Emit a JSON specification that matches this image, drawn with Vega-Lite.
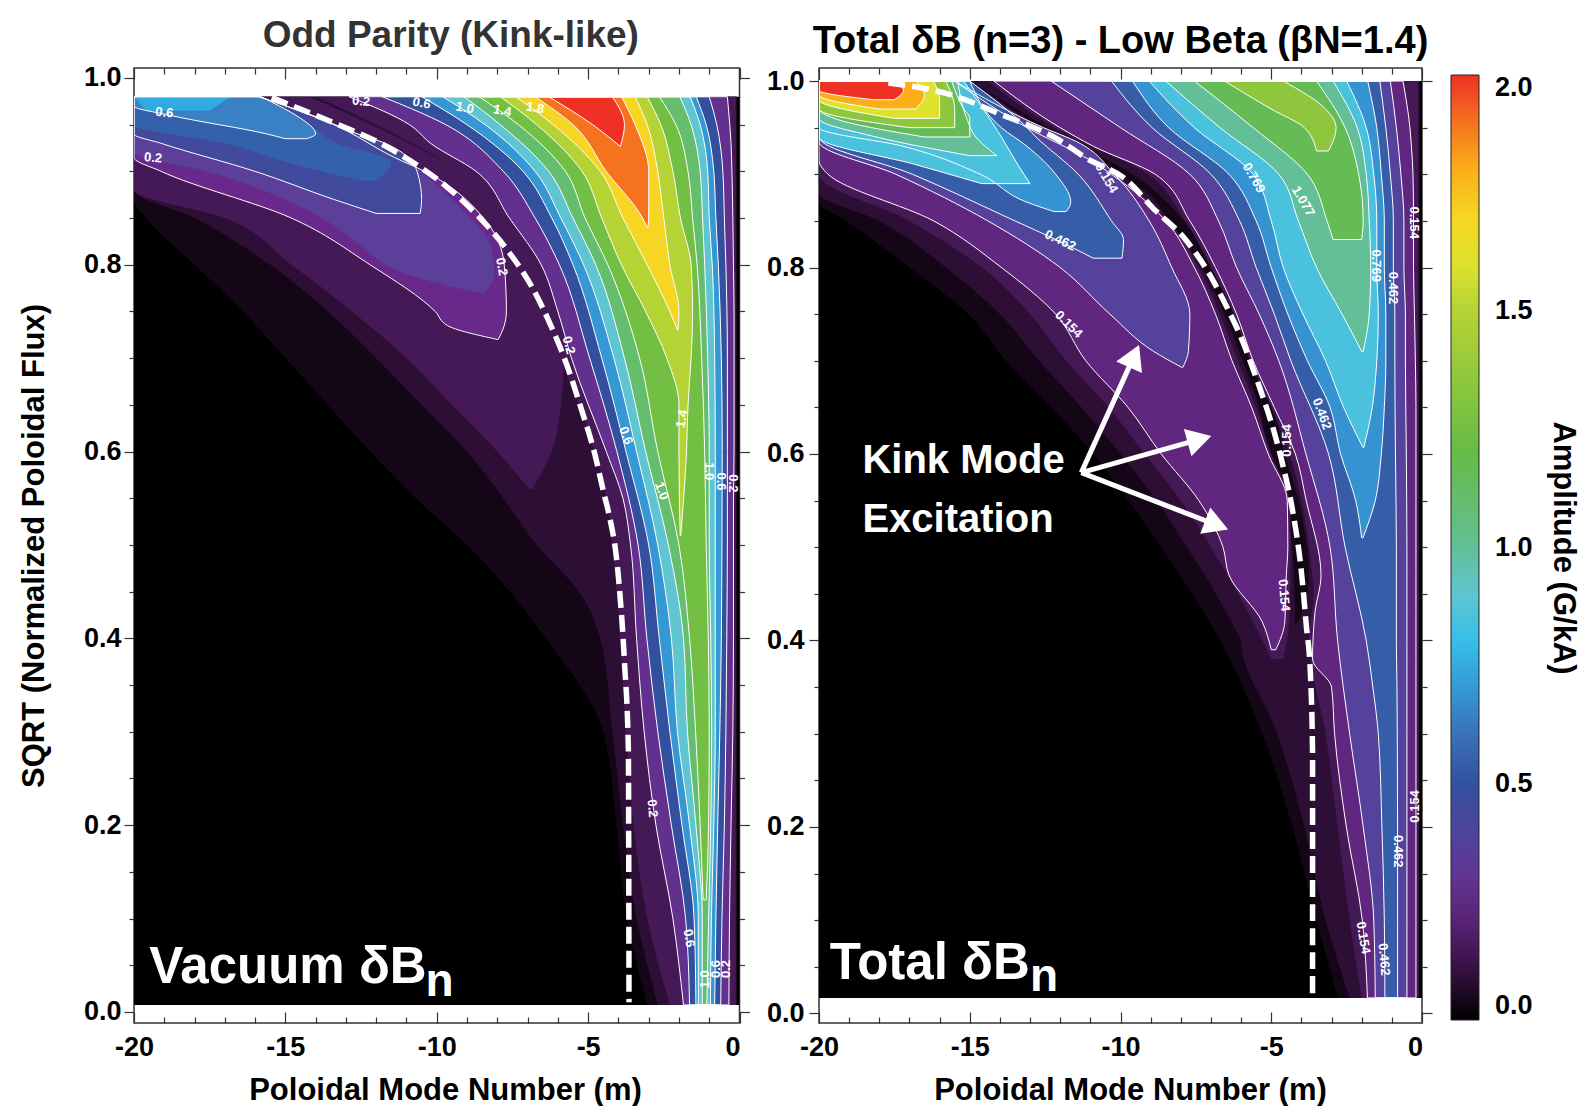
{"$schema":"https://vega.github.io/schema/vega-lite/v6.json","padding":{"left":17,"top":16,"right":0,"bottom":0},"background":"white","bounds":"flush","spacing":79,
"config":{"view":{"stroke":"#333333","strokeWidth":1.5},"font":"Liberation Sans","axis":{"grid":false,"domain":false,"labelFont":"Liberation Sans","labelFontWeight":"bold","labelFontSize":27,"labelColor":"#000000","titleFont":"Liberation Sans","titleFontWeight":"bold","titleFontSize":31,"titleColor":"#000000","tickColor":"#333333","tickWidth":1.2,"labelOverlap":false,"labelFlush":false},"legend":{"orient":"none"}},
"resolve":{"scale":{"color":"shared"}},
"datasets":{
"p1":[
{"g":0,"c":0,"s":0.0075,"a":-20,"b":0},{"g":0,"c":0,"s":0.98,"a":-20,"b":0},
{"g":1,"c":0.05,"s":0.0075,"a":-3.05,"b":-0.08},{"g":1,"c":0.05,"s":0.1,"a":-3.73,"b":-0.08},{"g":1,"c":0.05,"s":0.2,"a":-4.07,"b":-0.08},{"g":1,"c":0.05,"s":0.3,"a":-4.5,"b":-0.08},{"g":1,"c":0.05,"s":0.4,"a":-6.4,"b":-0.08},{"g":1,"c":0.05,"s":0.5,"a":-9,"b":-0.08},{"g":1,"c":0.05,"s":0.55,"a":-10.7,"b":-0.08},{"g":1,"c":0.05,"s":0.6,"a":-12.2,"b":-0.08},{"g":1,"c":0.05,"s":0.65,"a":-13.6,"b":-0.08},{"g":1,"c":0.05,"s":0.7,"a":-15,"b":-0.08},{"g":1,"c":0.05,"s":0.75,"a":-16.4,"b":-0.08},{"g":1,"c":0.05,"s":0.8,"a":-18,"b":-0.08},{"g":1,"c":0.05,"s":0.85,"a":-19.6,"b":-0.08},{"g":1,"c":0.05,"s":0.87,"a":-20,"b":-0.08},{"g":1,"c":0.05,"s":0.98,"a":-20,"b":-0.08},
{"g":2,"c":0.09,"s":0.0075,"a":-2.7,"b":-0.1},{"g":2,"c":0.09,"s":0.1,"a":-3.4,"b":-0.1},{"g":2,"c":0.09,"s":0.2,"a":-3.85,"b":-0.1},{"g":2,"c":0.09,"s":0.3,"a":-4.2,"b":-0.1},{"g":2,"c":0.09,"s":0.4,"a":-4.6,"b":-0.1},{"g":2,"c":0.09,"s":0.45,"a":-5.3,"b":-0.1},{"g":2,"c":0.09,"s":0.5,"a":-6.7,"b":-0.1},{"g":2,"c":0.09,"s":0.55,"a":-7.8,"b":-0.1},{"g":2,"c":0.09,"s":0.6,"a":-9,"b":-0.1},{"g":2,"c":0.09,"s":0.65,"a":-10.5,"b":-0.1},{"g":2,"c":0.09,"s":0.7,"a":-12,"b":-0.1},{"g":2,"c":0.09,"s":0.75,"a":-13.6,"b":-0.1},{"g":2,"c":0.09,"s":0.8,"a":-15.5,"b":-0.1},{"g":2,"c":0.09,"s":0.85,"a":-18,"b":-0.1},{"g":2,"c":0.09,"s":0.88,"a":-20,"b":-0.1},{"g":2,"c":0.09,"s":0.98,"a":-20,"b":-0.1},
{"g":3,"c":0.15,"s":0.0075,"a":-2.3,"b":-0.12},{"g":3,"c":0.15,"s":0.1,"a":-3.05,"b":-0.12},{"g":3,"c":0.15,"s":0.2,"a":-3.5,"b":-0.12},{"g":3,"c":0.15,"s":0.3,"a":-3.75,"b":-0.12},{"g":3,"c":0.15,"s":0.4,"a":-3.95,"b":-0.12},{"g":3,"c":0.15,"s":0.5,"a":-4.2,"b":-0.12},{"g":3,"c":0.15,"s":0.55,"a":-4.4,"b":-0.12},{"g":3,"c":0.15,"s":0.6,"a":-4.8,"b":-0.12},{"g":3,"c":0.15,"s":0.65,"a":-5.3,"b":-0.12},{"g":3,"c":0.15,"s":0.7,"a":-5.9,"b":-0.12},{"g":3,"c":0.15,"s":0.75,"a":-6.3,"b":-0.12},{"g":3,"c":0.15,"s":0.8,"a":-6.9,"b":-0.12},{"g":3,"c":0.15,"s":0.85,"a":-8,"b":-0.12},{"g":3,"c":0.15,"s":0.9,"a":-9.3,"b":-0.12},{"g":3,"c":0.15,"s":0.95,"a":-12,"b":-0.12},{"g":3,"c":0.15,"s":0.98,"a":-14,"b":-0.12},
{"g":4,"c":0.15,"s":0.56,"a":-6.95,"b":-6.85},{"g":4,"c":0.15,"s":0.6,"a":-8,"b":-6.2},{"g":4,"c":0.15,"s":0.65,"a":-9.5,"b":-5.9},{"g":4,"c":0.15,"s":0.7,"a":-11,"b":-5.8},{"g":4,"c":0.15,"s":0.75,"a":-12.8,"b":-6.1},{"g":4,"c":0.15,"s":0.8,"a":-14.8,"b":-6.7},{"g":4,"c":0.15,"s":0.85,"a":-17,"b":-7.4},{"g":4,"c":0.15,"s":0.88,"a":-20,"b":-8.3},{"g":4,"c":0.15,"s":0.92,"a":-20,"b":-10.3},{"g":4,"c":0.15,"s":0.98,"a":-20,"b":-14.2},
{"g":5,"c":0.25,"s":0.72,"a":-7.99,"b":-7.97},{"g":5,"c":0.25,"s":0.735,"a":-9.65,"b":-7.77},{"g":5,"c":0.25,"s":0.75,"a":-10.05,"b":-7.7},{"g":5,"c":0.25,"s":0.8,"a":-12.2,"b":-7.77},{"g":5,"c":0.25,"s":0.85,"a":-14.8,"b":-8.45},{"g":5,"c":0.25,"s":0.9,"a":-19.1,"b":-10.4},{"g":5,"c":0.25,"s":0.915,"a":-20,"b":-11.4},{"g":5,"c":0.25,"s":0.95,"a":-20,"b":-13.4},{"g":5,"c":0.25,"s":0.98,"a":-20,"b":-15.85},
{"g":6,"c":0.28,"s":0.0075,"a":-1.85,"b":-0.35},{"g":6,"c":0.28,"s":0.1,"a":-2.2,"b":-0.33},{"g":6,"c":0.28,"s":0.2,"a":-2.76,"b":-0.28},{"g":6,"c":0.28,"s":0.3,"a":-3.15,"b":-0.22},{"g":6,"c":0.28,"s":0.4,"a":-3.4,"b":-0.2},{"g":6,"c":0.28,"s":0.5,"a":-3.6,"b":-0.2},{"g":6,"c":0.28,"s":0.55,"a":-3.85,"b":-0.2},{"g":6,"c":0.28,"s":0.6,"a":-4.4,"b":-0.18},{"g":6,"c":0.28,"s":0.7,"a":-5.55,"b":-0.18},{"g":6,"c":0.28,"s":0.75,"a":-6,"b":-0.18},{"g":6,"c":0.28,"s":0.8,"a":-6.55,"b":-0.2},{"g":6,"c":0.28,"s":0.85,"a":-7.6,"b":-0.22},{"g":6,"c":0.28,"s":0.9,"a":-8.7,"b":-0.25},{"g":6,"c":0.28,"s":0.93,"a":-10.2,"b":-0.28},{"g":6,"c":0.28,"s":0.95,"a":-10.9,"b":-0.32},{"g":6,"c":0.28,"s":0.98,"a":-12.9,"b":-0.4},
{"g":7,"c":0.35,"s":0.77,"a":-8.6,"b":-8.4},{"g":7,"c":0.35,"s":0.79,"a":-11,"b":-8.1},{"g":7,"c":0.35,"s":0.82,"a":-12.5,"b":-8.2},{"g":7,"c":0.35,"s":0.85,"a":-13.8,"b":-8.9},{"g":7,"c":0.35,"s":0.9,"a":-17.6,"b":-10.5},{"g":7,"c":0.35,"s":0.92,"a":-20,"b":-11.2},{"g":7,"c":0.35,"s":0.95,"a":-20,"b":-13.3},{"g":7,"c":0.35,"s":0.98,"a":-20,"b":-15.8},
{"g":8,"c":0.45,"s":0.855,"a":-12,"b":-10.55},{"g":8,"c":0.45,"s":0.87,"a":-13.4,"b":-10.5},{"g":8,"c":0.45,"s":0.9,"a":-16,"b":-10.65},{"g":8,"c":0.45,"s":0.93,"a":-19.1,"b":-11.7},{"g":8,"c":0.45,"s":0.94,"a":-20,"b":-12.6},{"g":8,"c":0.45,"s":0.96,"a":-20,"b":-14.1},{"g":8,"c":0.45,"s":0.98,"a":-20,"b":-15.9},
{"g":9,"c":0.5,"s":0.0075,"a":-1.65,"b":-0.62},{"g":9,"c":0.5,"s":0.1,"a":-1.78,"b":-0.58},{"g":9,"c":0.5,"s":0.2,"a":-2.25,"b":-0.5},{"g":9,"c":0.5,"s":0.3,"a":-2.7,"b":-0.45},{"g":9,"c":0.5,"s":0.4,"a":-3.06,"b":-0.42},{"g":9,"c":0.5,"s":0.5,"a":-3.35,"b":-0.4},{"g":9,"c":0.5,"s":0.6,"a":-4.05,"b":-0.4},{"g":9,"c":0.5,"s":0.7,"a":-4.95,"b":-0.4},{"g":9,"c":0.5,"s":0.8,"a":-5.95,"b":-0.45},{"g":9,"c":0.5,"s":0.85,"a":-6.75,"b":-0.5},{"g":9,"c":0.5,"s":0.9,"a":-7.8,"b":-0.55},{"g":9,"c":0.5,"s":0.95,"a":-9.7,"b":-0.75},{"g":9,"c":0.5,"s":0.98,"a":-11.8,"b":-1},
{"g":10,"c":0.55,"s":0.89,"a":-12.5,"b":-12},{"g":10,"c":0.55,"s":0.91,"a":-15,"b":-11.5},{"g":10,"c":0.55,"s":0.93,"a":-17,"b":-13.3},{"g":10,"c":0.55,"s":0.95,"a":-20,"b":-14.2},{"g":10,"c":0.55,"s":0.98,"a":-20,"b":-15.8},
{"g":11,"c":0.65,"s":0.935,"a":-15,"b":-14.3},{"g":11,"c":0.65,"s":0.94,"a":-15.6,"b":-14},{"g":11,"c":0.65,"s":0.96,"a":-18.8,"b":-14.65},{"g":11,"c":0.65,"s":0.97,"a":-20,"b":-15.2},{"g":11,"c":0.65,"s":0.98,"a":-20,"b":-15.8},
{"g":12,"c":0.7,"s":0.0075,"a":-1.44,"b":-0.82},{"g":12,"c":0.7,"s":0.1,"a":-1.5,"b":-0.78},{"g":12,"c":0.7,"s":0.2,"a":-1.9,"b":-0.72},{"g":12,"c":0.7,"s":0.3,"a":-2.3,"b":-0.65},{"g":12,"c":0.7,"s":0.4,"a":-2.65,"b":-0.6},{"g":12,"c":0.7,"s":0.5,"a":-3,"b":-0.58},{"g":12,"c":0.7,"s":0.6,"a":-3.75,"b":-0.57},{"g":12,"c":0.7,"s":0.7,"a":-4.55,"b":-0.6},{"g":12,"c":0.7,"s":0.8,"a":-5.5,"b":-0.7},{"g":12,"c":0.7,"s":0.85,"a":-6.2,"b":-0.78},{"g":12,"c":0.7,"s":0.9,"a":-7.15,"b":-0.85},{"g":12,"c":0.7,"s":0.95,"a":-9,"b":-1.1},{"g":12,"c":0.7,"s":0.98,"a":-10.5,"b":-1.43},
{"g":13,"c":0.74,"s":0.965,"a":-19.6,"b":-17.5},{"g":13,"c":0.74,"s":0.98,"a":-20,"b":-16.8},
{"g":14,"c":0.9,"s":0.0075,"a":-1.36,"b":-0.96},{"g":14,"c":0.9,"s":0.1,"a":-1.36,"b":-0.93},{"g":14,"c":0.9,"s":0.2,"a":-1.65,"b":-0.85},{"g":14,"c":0.9,"s":0.3,"a":-2.05,"b":-0.8},{"g":14,"c":0.9,"s":0.4,"a":-2.25,"b":-0.8},{"g":14,"c":0.9,"s":0.5,"a":-2.7,"b":-0.8},{"g":14,"c":0.9,"s":0.6,"a":-3.4,"b":-0.8},{"g":14,"c":0.9,"s":0.7,"a":-4.15,"b":-0.82},{"g":14,"c":0.9,"s":0.8,"a":-5.15,"b":-0.9},{"g":14,"c":0.9,"s":0.85,"a":-5.9,"b":-1},{"g":14,"c":0.9,"s":0.9,"a":-6.75,"b":-1.05},{"g":14,"c":0.9,"s":0.95,"a":-8.4,"b":-1.3},{"g":14,"c":0.9,"s":0.98,"a":-9.8,"b":-1.63},
{"g":15,"c":1.1,"s":0.0075,"a":-1.23,"b":-1.08},{"g":15,"c":1.1,"s":0.1,"a":-1.23,"b":-1.02},{"g":15,"c":1.1,"s":0.2,"a":-1.44,"b":-0.95},{"g":15,"c":1.1,"s":0.3,"a":-1.72,"b":-0.92},{"g":15,"c":1.1,"s":0.4,"a":-1.85,"b":-0.95},{"g":15,"c":1.1,"s":0.5,"a":-2.35,"b":-1},{"g":15,"c":1.1,"s":0.6,"a":-3.1,"b":-1},{"g":15,"c":1.1,"s":0.7,"a":-3.8,"b":-1.05},{"g":15,"c":1.1,"s":0.8,"a":-4.75,"b":-1.15},{"g":15,"c":1.1,"s":0.85,"a":-5.5,"b":-1.22},{"g":15,"c":1.1,"s":0.9,"a":-6.3,"b":-1.3},{"g":15,"c":1.1,"s":0.95,"a":-7.9,"b":-1.6},{"g":15,"c":1.1,"s":0.98,"a":-9.1,"b":-1.97},
{"g":16,"c":1.25,"s":0.12,"a":-1.2,"b":-1.1},{"g":16,"c":1.25,"s":0.2,"a":-1.3,"b":-1.02},{"g":16,"c":1.25,"s":0.3,"a":-1.45,"b":-1},{"g":16,"c":1.25,"s":0.4,"a":-1.65,"b":-1.03},{"g":16,"c":1.25,"s":0.5,"a":-2,"b":-1.1},{"g":16,"c":1.25,"s":0.6,"a":-2.7,"b":-1.15},{"g":16,"c":1.25,"s":0.7,"a":-3.3,"b":-1.25},{"g":16,"c":1.25,"s":0.8,"a":-4.35,"b":-1.4},{"g":16,"c":1.25,"s":0.85,"a":-5.1,"b":-1.55},{"g":16,"c":1.25,"s":0.9,"a":-5.75,"b":-1.7},{"g":16,"c":1.25,"s":0.95,"a":-7.3,"b":-2.1},{"g":16,"c":1.25,"s":0.98,"a":-8.6,"b":-2.65},
{"g":17,"c":1.5,"s":0.51,"a":-1.96,"b":-1.94},{"g":17,"c":1.5,"s":0.6,"a":-2,"b":-1.75},{"g":17,"c":1.5,"s":0.65,"a":-2,"b":-1.7},{"g":17,"c":1.5,"s":0.7,"a":-2.4,"b":-1.6},{"g":17,"c":1.5,"s":0.75,"a":-3.1,"b":-1.55},{"g":17,"c":1.5,"s":0.8,"a":-3.9,"b":-1.6},{"g":17,"c":1.5,"s":0.85,"a":-4.55,"b":-1.95},{"g":17,"c":1.5,"s":0.9,"a":-5.2,"b":-2.2},{"g":17,"c":1.5,"s":0.95,"a":-6.7,"b":-2.6},{"g":17,"c":1.5,"s":0.98,"a":-7.9,"b":-3.05},
{"g":18,"c":1.7,"s":0.73,"a":-2.05,"b":-2.03},{"g":18,"c":1.7,"s":0.75,"a":-2.3,"b":-2},{"g":18,"c":1.7,"s":0.8,"a":-3.05,"b":-2.3},{"g":18,"c":1.7,"s":0.85,"a":-3.85,"b":-2.5},{"g":18,"c":1.7,"s":0.9,"a":-4.6,"b":-2.7},{"g":18,"c":1.7,"s":0.95,"a":-6.15,"b":-3.05},{"g":18,"c":1.7,"s":0.98,"a":-7.4,"b":-3.45},
{"g":19,"c":1.9,"s":0.84,"a":-3.05,"b":-3.03},{"g":19,"c":1.9,"s":0.85,"a":-3.2,"b":-3},{"g":19,"c":1.9,"s":0.9,"a":-4.4,"b":-3},{"g":19,"c":1.9,"s":0.95,"a":-5.5,"b":-3.45},{"g":19,"c":1.9,"s":0.98,"a":-6.75,"b":-3.9},
{"g":20,"c":2,"s":0.927,"a":-3.95,"b":-3.93},{"g":20,"c":2,"s":0.95,"a":-4.85,"b":-3.8},{"g":20,"c":2,"s":0.98,"a":-6.3,"b":-4.2}
],
"p2":[
{"g":0,"c":0,"s":0.0166,"a":-20,"b":0},{"g":0,"c":0,"s":1,"a":-20,"b":0},
{"g":1,"c":0.05,"s":0.0166,"a":-2.8,"b":-0.05},{"g":1,"c":0.05,"s":0.1,"a":-3.5,"b":-0.05},{"g":1,"c":0.05,"s":0.2,"a":-4.3,"b":-0.05},{"g":1,"c":0.05,"s":0.3,"a":-5.3,"b":-0.05},{"g":1,"c":0.05,"s":0.4,"a":-6.7,"b":-0.05},{"g":1,"c":0.05,"s":0.5,"a":-8.65,"b":-0.05},{"g":1,"c":0.05,"s":0.55,"a":-9.75,"b":-0.05},{"g":1,"c":0.05,"s":0.6,"a":-10.9,"b":-0.05},{"g":1,"c":0.05,"s":0.65,"a":-12.3,"b":-0.05},{"g":1,"c":0.05,"s":0.7,"a":-13.8,"b":-0.05},{"g":1,"c":0.05,"s":0.75,"a":-15.05,"b":-0.05},{"g":1,"c":0.05,"s":0.8,"a":-17,"b":-0.05},{"g":1,"c":0.05,"s":0.85,"a":-19.1,"b":-0.05},{"g":1,"c":0.05,"s":0.87,"a":-20,"b":-0.05},{"g":1,"c":0.05,"s":1,"a":-20,"b":-0.05},
{"g":2,"c":0.09,"s":0.0166,"a":-2.4,"b":-0.1},{"g":2,"c":0.09,"s":0.1,"a":-3.2,"b":-0.1},{"g":2,"c":0.09,"s":0.2,"a":-3.9,"b":-0.1},{"g":2,"c":0.09,"s":0.3,"a":-4.8,"b":-0.1},{"g":2,"c":0.09,"s":0.4,"a":-6,"b":-0.1},{"g":2,"c":0.09,"s":0.42,"a":-4.1,"b":-0.1},{"g":2,"c":0.09,"s":0.47,"a":-3.75,"b":-0.1},{"g":2,"c":0.09,"s":0.55,"a":-4.1,"b":-0.1},{"g":2,"c":0.09,"s":0.6,"a":-4.55,"b":-0.1},{"g":2,"c":0.09,"s":0.65,"a":-4.95,"b":-0.1},{"g":2,"c":0.09,"s":0.7,"a":-5.5,"b":-0.1},{"g":2,"c":0.09,"s":0.75,"a":-6.1,"b":-0.1},{"g":2,"c":0.09,"s":0.8,"a":-6.9,"b":-0.1},{"g":2,"c":0.09,"s":0.85,"a":-7.9,"b":-0.1},{"g":2,"c":0.09,"s":0.9,"a":-9.6,"b":-0.1},{"g":2,"c":0.09,"s":0.935,"a":-11.6,"b":-0.1},{"g":2,"c":0.09,"s":1,"a":-15,"b":-0.1},
{"g":3,"c":0.09,"s":0.4,"a":-6,"b":-4.2},{"g":3,"c":0.09,"s":0.47,"a":-7.2,"b":-4.25},{"g":3,"c":0.09,"s":0.5,"a":-7.8,"b":-4.3},{"g":3,"c":0.09,"s":0.55,"a":-8.8,"b":-4.6},{"g":3,"c":0.09,"s":0.6,"a":-10,"b":-5.1},{"g":3,"c":0.09,"s":0.65,"a":-11.3,"b":-5.4},{"g":3,"c":0.09,"s":0.7,"a":-12.7,"b":-5.95},{"g":3,"c":0.09,"s":0.75,"a":-14,"b":-6.55},{"g":3,"c":0.09,"s":0.8,"a":-15.8,"b":-7.3},{"g":3,"c":0.09,"s":0.85,"a":-18,"b":-8.4},{"g":3,"c":0.09,"s":0.88,"a":-20,"b":-9.1},{"g":3,"c":0.09,"s":0.9,"a":-20,"b":-10.1},{"g":3,"c":0.09,"s":0.935,"a":-20,"b":-12.3},{"g":3,"c":0.09,"s":1,"a":-20,"b":-16},
{"g":4,"c":0.15,"s":0.0166,"a":-2,"b":-0.12},{"g":4,"c":0.15,"s":0.1,"a":-2.4,"b":-0.12},{"g":4,"c":0.15,"s":0.2,"a":-2.8,"b":-0.12},{"g":4,"c":0.15,"s":0.3,"a":-3.2,"b":-0.12},{"g":4,"c":0.15,"s":0.4,"a":-3.75,"b":-0.12},{"g":4,"c":0.15,"s":0.45,"a":-3.6,"b":-0.12},{"g":4,"c":0.15,"s":0.5,"a":-3.75,"b":-0.12},{"g":4,"c":0.15,"s":0.55,"a":-4,"b":-0.12},{"g":4,"c":0.15,"s":0.6,"a":-4.4,"b":-0.12},{"g":4,"c":0.15,"s":0.65,"a":-5,"b":-0.12},{"g":4,"c":0.15,"s":0.7,"a":-5.7,"b":-0.12},{"g":4,"c":0.15,"s":0.75,"a":-6.25,"b":-0.12},{"g":4,"c":0.15,"s":0.8,"a":-7,"b":-0.12},{"g":4,"c":0.15,"s":0.85,"a":-7.85,"b":-0.12},{"g":4,"c":0.15,"s":0.9,"a":-9.1,"b":-0.12},{"g":4,"c":0.15,"s":0.95,"a":-12.2,"b":-0.12},{"g":4,"c":0.15,"s":1,"a":-14.4,"b":-0.12},
{"g":5,"c":0.15,"s":0.38,"a":-5,"b":-4.6},{"g":5,"c":0.15,"s":0.42,"a":-5.6,"b":-4.4},{"g":5,"c":0.15,"s":0.5,"a":-7,"b":-4.35},{"g":5,"c":0.15,"s":0.55,"a":-8,"b":-4.4},{"g":5,"c":0.15,"s":0.6,"a":-9.2,"b":-5},{"g":5,"c":0.15,"s":0.65,"a":-10.4,"b":-5.5},{"g":5,"c":0.15,"s":0.7,"a":-11.8,"b":-6.1},{"g":5,"c":0.15,"s":0.75,"a":-13,"b":-6.7},{"g":5,"c":0.15,"s":0.8,"a":-14.6,"b":-7.4},{"g":5,"c":0.15,"s":0.85,"a":-17,"b":-8.4},{"g":5,"c":0.15,"s":0.9,"a":-20,"b":-10.2},{"g":5,"c":0.15,"s":0.95,"a":-20,"b":-12.7},{"g":5,"c":0.15,"s":1,"a":-20,"b":-15},
{"g":6,"c":0.23,"s":0.39,"a":-5,"b":-4.85},{"g":6,"c":0.23,"s":0.42,"a":-5.3,"b":-4.55},{"g":6,"c":0.23,"s":0.47,"a":-6.4,"b":-4.5},{"g":6,"c":0.23,"s":0.5,"a":-6.6,"b":-4.45},{"g":6,"c":0.23,"s":0.55,"a":-7.4,"b":-4.47},{"g":6,"c":0.23,"s":0.6,"a":-8.65,"b":-5.1},{"g":6,"c":0.23,"s":0.65,"a":-9.75,"b":-5.65},{"g":6,"c":0.23,"s":0.7,"a":-11.15,"b":-6.3},{"g":6,"c":0.23,"s":0.75,"a":-12.15,"b":-6.85},{"g":6,"c":0.23,"s":0.8,"a":-13.95,"b":-7.55},{"g":6,"c":0.23,"s":0.85,"a":-16.2,"b":-8.5},{"g":6,"c":0.23,"s":0.9,"a":-19.7,"b":-10.3},{"g":6,"c":0.23,"s":0.915,"a":-20,"b":-11},{"g":6,"c":0.23,"s":0.95,"a":-20,"b":-13.1},{"g":6,"c":0.23,"s":1,"a":-20,"b":-15.5},
{"g":7,"c":0.23,"s":0.0166,"a":-1.81,"b":-0.2},{"g":7,"c":0.23,"s":0.1,"a":-1.98,"b":-0.2},{"g":7,"c":0.23,"s":0.2,"a":-2.51,"b":-0.2},{"g":7,"c":0.23,"s":0.3,"a":-2.9,"b":-0.2},{"g":7,"c":0.23,"s":0.35,"a":-3,"b":-0.2},{"g":7,"c":0.23,"s":0.38,"a":-3.63,"b":-0.2},{"g":7,"c":0.23,"s":0.43,"a":-3.55,"b":-0.2},{"g":7,"c":0.23,"s":0.47,"a":-3.35,"b":-0.2},{"g":7,"c":0.23,"s":0.55,"a":-3.84,"b":-0.2},{"g":7,"c":0.23,"s":0.6,"a":-4.2,"b":-0.2},{"g":7,"c":0.23,"s":0.65,"a":-4.9,"b":-0.2},{"g":7,"c":0.23,"s":0.7,"a":-5.6,"b":-0.22},{"g":7,"c":0.23,"s":0.75,"a":-6.15,"b":-0.25},{"g":7,"c":0.23,"s":0.8,"a":-6.85,"b":-0.28},{"g":7,"c":0.23,"s":0.85,"a":-7.7,"b":-0.28},{"g":7,"c":0.23,"s":0.9,"a":-8.85,"b":-0.3},{"g":7,"c":0.23,"s":0.93,"a":-10.9,"b":-0.35},{"g":7,"c":0.23,"s":0.95,"a":-12,"b":-0.4},{"g":7,"c":0.23,"s":1,"a":-14.2,"b":-0.63},
{"g":8,"c":0.38,"s":0.693,"a":-7.97,"b":-7.93},{"g":8,"c":0.38,"s":0.71,"a":-8.9,"b":-7.75},{"g":8,"c":0.38,"s":0.75,"a":-10.35,"b":-7.7},{"g":8,"c":0.38,"s":0.8,"a":-12,"b":-8.3},{"g":8,"c":0.38,"s":0.85,"a":-14.4,"b":-9.05},{"g":8,"c":0.38,"s":0.9,"a":-17.45,"b":-10.2},{"g":8,"c":0.38,"s":0.935,"a":-20,"b":-11.45},{"g":8,"c":0.38,"s":0.95,"a":-20,"b":-12.55},{"g":8,"c":0.38,"s":1,"a":-20,"b":-15.5},
{"g":9,"c":0.38,"s":0.0166,"a":-1.55,"b":-0.5},{"g":9,"c":0.38,"s":0.1,"a":-1.6,"b":-0.5},{"g":9,"c":0.38,"s":0.2,"a":-1.95,"b":-0.5},{"g":9,"c":0.38,"s":0.3,"a":-2.4,"b":-0.5},{"g":9,"c":0.38,"s":0.4,"a":-2.8,"b":-0.5},{"g":9,"c":0.38,"s":0.5,"a":-3.05,"b":-0.5},{"g":9,"c":0.38,"s":0.6,"a":-3.85,"b":-0.52},{"g":9,"c":0.38,"s":0.7,"a":-4.75,"b":-0.55},{"g":9,"c":0.38,"s":0.75,"a":-5.4,"b":-0.55},{"g":9,"c":0.38,"s":0.8,"a":-6.15,"b":-0.6},{"g":9,"c":0.38,"s":0.85,"a":-6.75,"b":-0.6},{"g":9,"c":0.38,"s":0.9,"a":-7.7,"b":-0.7},{"g":9,"c":0.38,"s":0.95,"a":-10,"b":-0.85},{"g":9,"c":0.38,"s":1,"a":-12.3,"b":-1.05},
{"g":10,"c":0.54,"s":0.81,"a":-10.9,"b":-9.95},{"g":10,"c":0.54,"s":0.83,"a":-12.15,"b":-9.9},{"g":10,"c":0.54,"s":0.85,"a":-13.5,"b":-10.3},{"g":10,"c":0.54,"s":0.9,"a":-16.9,"b":-11.4},{"g":10,"c":0.54,"s":0.94,"a":-20,"b":-12.8},{"g":10,"c":0.54,"s":0.95,"a":-20,"b":-13.1},{"g":10,"c":0.54,"s":1,"a":-20,"b":-15},
{"g":11,"c":0.54,"s":0.0166,"a":-1.23,"b":-0.81},{"g":11,"c":0.54,"s":0.1,"a":-1.25,"b":-0.81},{"g":11,"c":0.54,"s":0.2,"a":-1.33,"b":-0.81},{"g":11,"c":0.54,"s":0.3,"a":-1.45,"b":-0.82},{"g":11,"c":0.54,"s":0.35,"a":-1.63,"b":-0.83},{"g":11,"c":0.54,"s":0.4,"a":-1.85,"b":-0.85},{"g":11,"c":0.54,"s":0.5,"a":-2.55,"b":-0.85},{"g":11,"c":0.54,"s":0.6,"a":-3.1,"b":-0.88},{"g":11,"c":0.54,"s":0.7,"a":-4.35,"b":-0.9},{"g":11,"c":0.54,"s":0.75,"a":-4.9,"b":-0.9},{"g":11,"c":0.54,"s":0.8,"a":-5.5,"b":-0.95},{"g":11,"c":0.54,"s":0.85,"a":-6.05,"b":-0.95},{"g":11,"c":0.54,"s":0.9,"a":-7,"b":-1.05},{"g":11,"c":0.54,"s":0.95,"a":-8.95,"b":-1.2},{"g":11,"c":0.54,"s":1,"a":-10.3,"b":-1.4},
{"g":12,"c":0.69,"s":0.86,"a":-12.2,"b":-11.8},{"g":12,"c":0.69,"s":0.87,"a":-13.1,"b":-11.65},{"g":12,"c":0.69,"s":0.9,"a":-14.65,"b":-12.15},{"g":12,"c":0.69,"s":0.93,"a":-17.2,"b":-13.1},{"g":12,"c":0.69,"s":0.95,"a":-20,"b":-13.95},{"g":12,"c":0.69,"s":1,"a":-20,"b":-15},
{"g":13,"c":0.69,"s":0.51,"a":-2,"b":-1.96},{"g":13,"c":0.69,"s":0.55,"a":-2.2,"b":-1.55},{"g":13,"c":0.69,"s":0.6,"a":-2.7,"b":-1.35},{"g":13,"c":0.69,"s":0.65,"a":-3.05,"b":-1.25},{"g":13,"c":0.69,"s":0.7,"a":-3.8,"b":-1.2},{"g":13,"c":0.69,"s":0.75,"a":-4.45,"b":-1.2},{"g":13,"c":0.69,"s":0.8,"a":-5,"b":-1.25},{"g":13,"c":0.69,"s":0.85,"a":-5.5,"b":-1.25},{"g":13,"c":0.69,"s":0.9,"a":-6.4,"b":-1.35},{"g":13,"c":0.69,"s":0.95,"a":-8.4,"b":-1.5},{"g":13,"c":0.69,"s":1,"a":-9.6,"b":-1.8},
{"g":14,"c":0.85,"s":0.89,"a":-14.6,"b":-13},{"g":14,"c":0.85,"s":0.91,"a":-16.75,"b":-13.4},{"g":14,"c":0.85,"s":0.94,"a":-20,"b":-13.95},{"g":14,"c":0.85,"s":1,"a":-20,"b":-15.2},
{"g":15,"c":0.85,"s":0.607,"a":-1.96,"b":-1.93},{"g":15,"c":0.85,"s":0.65,"a":-2.6,"b":-1.65},{"g":15,"c":0.85,"s":0.7,"a":-3.2,"b":-1.5},{"g":15,"c":0.85,"s":0.75,"a":-3.95,"b":-1.45},{"g":15,"c":0.85,"s":0.8,"a":-4.6,"b":-1.5},{"g":15,"c":0.85,"s":0.85,"a":-5,"b":-1.5},{"g":15,"c":0.85,"s":0.9,"a":-5.6,"b":-1.6},{"g":15,"c":0.85,"s":0.95,"a":-7.55,"b":-1.85},{"g":15,"c":0.85,"s":1,"a":-9.05,"b":-2.5},
{"g":16,"c":1,"s":0.92,"a":-15,"b":-14.1},{"g":16,"c":1,"s":0.94,"a":-18.1,"b":-14.8},{"g":16,"c":1,"s":0.96,"a":-20,"b":-15.1},{"g":16,"c":1,"s":1,"a":-20,"b":-15.4},
{"g":17,"c":1,"s":0.71,"a":-2,"b":-1.95},{"g":17,"c":1,"s":0.75,"a":-2.65,"b":-1.75},{"g":17,"c":1,"s":0.8,"a":-3.5,"b":-1.7},{"g":17,"c":1,"s":0.85,"a":-4.1,"b":-1.75},{"g":17,"c":1,"s":0.9,"a":-4.75,"b":-1.85},{"g":17,"c":1,"s":0.95,"a":-6.7,"b":-2.15},{"g":17,"c":1,"s":1,"a":-8.5,"b":-2.95},
{"g":18,"c":1.16,"s":0.94,"a":-16.5,"b":-15},{"g":18,"c":1.16,"s":0.96,"a":-19.5,"b":-15},{"g":18,"c":1.16,"s":0.97,"a":-20,"b":-15.2},{"g":18,"c":1.16,"s":1,"a":-20,"b":-15.6},
{"g":19,"c":1.16,"s":0.83,"a":-2.95,"b":-2},{"g":19,"c":1.16,"s":0.85,"a":-3.15,"b":-1.95},{"g":19,"c":1.16,"s":0.9,"a":-3.8,"b":-2.1},{"g":19,"c":1.16,"s":0.95,"a":-5.6,"b":-2.55},{"g":19,"c":1.16,"s":1,"a":-7.55,"b":-3.5},
{"g":20,"c":1.35,"s":0.95,"a":-17,"b":-15.5},{"g":20,"c":1.35,"s":0.97,"a":-20,"b":-15.5},{"g":20,"c":1.35,"s":1,"a":-20,"b":-15.8},
{"g":21,"c":1.35,"s":0.925,"a":-3.5,"b":-3.1},{"g":21,"c":1.35,"s":0.95,"a":-3.9,"b":-2.85},{"g":21,"c":1.35,"s":0.97,"a":-5,"b":-3.2},{"g":21,"c":1.35,"s":1,"a":-6.55,"b":-4.6},
{"g":22,"c":1.6,"s":0.96,"a":-17.5,"b":-16},{"g":22,"c":1.6,"s":0.98,"a":-20,"b":-16},{"g":22,"c":1.6,"s":1,"a":-20,"b":-16.2},
{"g":23,"c":1.8,"s":0.97,"a":-18,"b":-16.8},{"g":23,"c":1.8,"s":0.985,"a":-20,"b":-16.5},{"g":23,"c":1.8,"s":1,"a":-20,"b":-16.8},
{"g":24,"c":2,"s":0.98,"a":-18.2,"b":-17.5},{"g":24,"c":2,"s":0.99,"a":-20,"b":-17.2},{"g":24,"c":2,"s":1,"a":-20,"b":-17.5}
],
"q1":[{"m":-15.45,"s":0.979},{"m":-13.4,"s":0.952},{"m":-11.8,"s":0.929},{"m":-11,"s":0.914},{"m":-9.65,"s":0.883},{"m":-8.6,"s":0.851},{"m":-7.65,"s":0.815},{"m":-6.85,"s":0.776},{"m":-6.3,"s":0.74},{"m":-5.75,"s":0.697},{"m":-5.2,"s":0.643},{"m":-4.8,"s":0.6},{"m":-4.47,"s":0.554},{"m":-4.34,"s":0.537},{"m":-4,"s":0.466},{"m":-3.8,"s":0.375},{"m":-3.67,"s":0.28},{"m":-3.65,"s":0.0104}],
"q2":[{"m":-17.7,"s":0.998},{"m":-15.5,"s":0.984},{"m":-14.1,"s":0.966},{"m":-12,"s":0.936},{"m":-11.17,"s":0.918},{"m":-9.77,"s":0.893},{"m":-8.93,"s":0.864},{"m":-7.82,"s":0.829},{"m":-6.98,"s":0.789},{"m":-6.42,"s":0.754},{"m":-6,"s":0.725},{"m":-5.58,"s":0.689},{"m":-5.16,"s":0.65},{"m":-4.88,"s":0.621},{"m":-4.6,"s":0.586},{"m":-4.33,"s":0.546},{"m":-3.98,"s":0.467},{"m":-3.84,"s":0.417},{"m":-3.7,"s":0.363},{"m":-3.63,"s":0.28},{"m":-3.63,"s":0.0166}],
"l1":[{"m":-19,"s":0.963,"t":"0.6","r":5},{"m":-19.37,"s":0.9145,"t":"0.2","r":5},{"m":-12.5,"s":0.975,"t":"0.2","r":5},{"m":-10.5,"s":0.973,"t":"0.6","r":10},{"m":-9.07,"s":0.968,"t":"1.0","r":10},{"m":-7.83,"s":0.965,"t":"1.4","r":10},{"m":-6.75,"s":0.968,"t":"1.8","r":10},{"m":-7.86,"s":0.798,"t":"0.2","r":80},{"m":-5.64,"s":0.714,"t":"0.2","r":75},{"m":-3.75,"s":0.617,"t":"0.6","r":70},{"m":-1.9,"s":0.635,"t":"1.4","r":-80},{"m":-2.57,"s":0.558,"t":"1.0","r":70},{"m":-1,"s":0.579,"t":"1.0","r":90},{"m":-0.6,"s":0.568,"t":"0.6","r":90},{"m":-0.2,"s":0.566,"t":"0.2","r":90},{"m":-2.88,"s":0.218,"t":"0.2","r":85},{"m":-1.67,"s":0.079,"t":"0.6","r":80},{"m":-1.15,"s":0.035,"t":"1.0","r":-90},{"m":-0.77,"s":0.046,"t":"0.6","r":-90},{"m":-0.46,"s":0.046,"t":"0.2","r":-90}],
"l2":[{"m":-10.47,"s":0.896,"t":"0.154","r":60},{"m":-12,"s":0.829,"t":"0.462","r":25},{"m":-11.72,"s":0.739,"t":"0.154","r":45},{"m":-5.58,"s":0.896,"t":"0.769","r":60},{"m":-3.94,"s":0.871,"t":"1.077","r":60},{"m":-1.53,"s":0.802,"t":"0.769","r":90},{"m":-0.95,"s":0.778,"t":"0.462","r":90},{"m":-0.28,"s":0.848,"t":"0.154","r":90},{"m":-3.32,"s":0.643,"t":"0.462","r":70},{"m":-4.47,"s":0.6145,"t":"0.154","r":-90},{"m":-4.58,"s":0.4485,"t":"0.154","r":85},{"m":-0.24,"s":0.222,"t":"0.154","r":-90},{"m":-0.81,"s":0.174,"t":"0.462","r":90},{"m":-1.95,"s":0.081,"t":"0.154","r":80},{"m":-1.26,"s":0.058,"t":"0.462","r":85}],
"w":[{"k":1,"m":-11.3,"s":0.58},{"k":1,"m":-9.55,"s":0.705},{"k":2,"m":-11.3,"s":0.58},{"k":2,"m":-7.38,"s":0.6157},{"k":3,"m":-11.3,"s":0.58},{"k":3,"m":-6.81,"s":0.5238}],
"h":[{"m":-9.55,"s":0.705,"r":24},{"m":-7.38,"s":0.6157,"r":74.5},{"m":-6.81,"s":0.5238,"r":111}]
},
"hconcat":[
{"width":605.5,"height":955,
"title":{"text":"Odd Parity (Kink-like)","font":"Liberation Sans","fontWeight":"bold","fontSize":37,"color":"#333333","anchor":"middle","dx":14,"offset":9},
"layer":[
{"data":{"name":"p1"},"mark":{"type":"area","orient":"horizontal","interpolate":"monotone","clip":true},
"encoding":{"y":{"field":"s","type":"quantitative","scale":{"domain":[-0.0118,1.0107],"nice":false,"zero":false},"title":"SQRT (Normalized Poloidal Flux)","axis":{"orient":"left","values":[0,0.2,0.4,0.6,0.8,1],"format":".1f","tickSize":10,"labelPadding":3,"titlePadding":33}},
"x":{"field":"a","type":"quantitative","scale":{"domain":[-20,0],"nice":false,"zero":false},"title":"Poloidal Mode Number (m)","axis":{"orient":"bottom","values":[-20,-15,-10,-5,0],"labelExpr":"''+datum.value","tickSize":-11,"labelPadding":22,"titlePadding":15,"titleX":311,"labelOffset":{"condition":{"test":"datum.value==0","value":-7},"value":0}}},
"x2":{"field":"b"},"detail":{"field":"g"},
"color":{"field":"c","type":"quantitative","scale":{"type":"linear","interpolate":"rgb","domain":[0,0.02,0.1,0.25,0.35,0.5,0.65,0.78,0.9,1,1.2,1.5,1.65,1.8,1.9,2],"range":["#000000","#000000","#34103c","#68298b","#5c3f9b","#33509e","#3a80c4","#2cbdee","#5fc5d0","#63bf97","#66bb46","#b5d334","#f3ea29","#fbae18","#f5721f","#ee3124"],"clamp":true},
"legend":{"orient":"none","legendX":1317,"legendY":7,"gradientLength":945,"gradientThickness":28,"gradientStrokeColor":"#222222","gradientStrokeWidth":1,"values":[0,0.5,1,1.5,2],"format":".1f","direction":"vertical","labelFont":"Liberation Sans","labelFontWeight":"bold","labelFontSize":27,"labelColor":"#000000","labelOffset":16,"title":"Amplitude (G/kA)","titleFont":"Liberation Sans","titleFontWeight":"bold","titleFontSize":31,"titleColor":"#000000","titleOrient":"right","titleAngle":90,"titleAnchor":"middle","titleBaseline":"middle","titlePadding":30,"titleLimit":400}}}},
{"data":{"name":"p1"},"transform":[{"filter":{"field":"c","oneOf":[0.25,0.28,0.45,0.5,0.65,0.7,0.9,1.1,1.25,1.5,1.7,1.9,2]}}],"mark":{"type":"area","orient":"horizontal","interpolate":"monotone","clip":true,"fillOpacity":0,"stroke":"#ffffff","strokeWidth":1},
"encoding":{"y":{"field":"s","type":"quantitative","axis":{"orient":"right","values":[0,0.2,0.4,0.6,0.8,1],"labels":false,"tickSize":10,"title":null},"scale":{"domain":[-0.0118,1.0107],"nice":false,"zero":false}},
"x":{"field":"a","type":"quantitative","axis":{"orient":"top","values":[-20,-15,-10,-5,0],"labels":false,"tickSize":-11,"title":null},"scale":{"domain":[-20,0],"nice":false,"zero":false}},"x2":{"field":"b"},"detail":{"field":"g"}}},
{"data":{"name":"q1"},"mark":{"type":"line","clip":true,"color":"#ffffff","strokeWidth":5.5,"strokeDash":[17,7],"interpolate":"monotone","orient":"horizontal"},
"encoding":{"y":{"field":"s","type":"quantitative","axis":{"orient":"left","values":[0.05,0.1,0.15,0.25,0.3,0.35,0.45,0.5,0.55,0.65,0.7,0.75,0.85,0.9,0.95],"labels":false,"tickSize":5,"title":null},"scale":{"domain":[-0.0118,1.0107],"nice":false,"zero":false}},
"x":{"field":"m","type":"quantitative","axis":{"orient":"bottom","values":[-19,-18,-17,-16,-14,-13,-12,-11,-9,-8,-7,-6,-4,-3,-2,-1],"labels":false,"tickSize":-6,"title":null},"scale":{"domain":[-20,0],"nice":false,"zero":false}},"order":{"field":"s","sort":"descending"}}},
{"data":{"name":"l1"},"mark":{"type":"text","color":"#ffffff","fontSize":13,"fontWeight":"bold","font":"Liberation Sans","clip":true},
"encoding":{"y":{"field":"s","type":"quantitative","axis":{"orient":"right","values":[0.05,0.1,0.15,0.25,0.3,0.35,0.45,0.5,0.55,0.65,0.7,0.75,0.85,0.9,0.95],"labels":false,"tickSize":5,"title":null},"scale":{"domain":[-0.0118,1.0107],"nice":false,"zero":false}},
"x":{"field":"m","type":"quantitative","axis":{"orient":"top","values":[-19,-18,-17,-16,-14,-13,-12,-11,-9,-8,-7,-6,-4,-3,-2,-1],"labels":false,"tickSize":-6,"title":null},"scale":{"domain":[-20,0],"nice":false,"zero":false}},"text":{"field":"t"},"angle":{"field":"r","type":"quantitative","scale":null}}},
{"data":{"values":[{"m":-19.5,"s":0.031,"t":"Vacuum δB"}]},"mark":{"type":"text","color":"#ffffff","fontSize":51,"fontWeight":"bold","font":"Liberation Sans","align":"left","baseline":"alphabetic"},
"encoding":{"x":{"field":"m","type":"quantitative","axis":null,"scale":{"domain":[-20,0],"nice":false,"zero":false}},"y":{"field":"s","type":"quantitative","axis":null,"scale":{"domain":[-0.0118,1.0107],"nice":false,"zero":false}},"text":{"field":"t"}}},
{"data":{"values":[{"m":-10.37,"s":0.017,"t":"n"}]},"mark":{"type":"text","color":"#ffffff","fontSize":46,"fontWeight":"bold","font":"Liberation Sans","align":"left","baseline":"alphabetic"},
"encoding":{"x":{"field":"m","type":"quantitative","axis":null,"scale":{"domain":[-20,0],"nice":false,"zero":false}},"y":{"field":"s","type":"quantitative","axis":null,"scale":{"domain":[-0.0118,1.0107],"nice":false,"zero":false}},"text":{"field":"t"}}}
],"resolve":{"axis":{"x":"independent","y":"independent"}}},
{"width":603,"height":955,
"title":{"text":"Total δB (n=3)  - Low Beta (βN=1.4)","font":"Liberation Sans","fontWeight":"bold","fontSize":38,"color":"#000000","anchor":"middle","dx":0,"offset":6},
"layer":[
{"data":{"name":"p2"},"mark":{"type":"area","orient":"horizontal","interpolate":"monotone","clip":true},
"encoding":{"y":{"field":"s","type":"quantitative","scale":{"domain":[-0.0103,1.014],"nice":false,"zero":false},"title":null,"axis":{"orient":"left","values":[0,0.2,0.4,0.6,0.8,1],"format":".1f","tickSize":10,"labelPadding":5}},
"x":{"field":"a","type":"quantitative","scale":{"domain":[-20,0],"nice":false,"zero":false},"title":"Poloidal Mode Number (m)","axis":{"orient":"bottom","values":[-20,-15,-10,-5,0],"labelExpr":"''+datum.value","tickSize":-11,"labelPadding":22,"titlePadding":15,"titleX":311,"labelOffset":{"condition":{"test":"datum.value==0","value":-7},"value":0}}},
"x2":{"field":"b"},"detail":{"field":"g"},
"color":{"field":"c","type":"quantitative","legend":null,"scale":{"type":"linear","interpolate":"rgb","domain":[0,0.02,0.1,0.25,0.35,0.5,0.65,0.78,0.9,1,1.2,1.5,1.65,1.8,1.9,2],"range":["#000000","#000000","#34103c","#68298b","#5c3f9b","#33509e","#3a80c4","#2cbdee","#5fc5d0","#63bf97","#66bb46","#b5d334","#f3ea29","#fbae18","#f5721f","#ee3124"],"clamp":true}}}},
{"data":{"name":"p2"},"transform":[{"filter":{"field":"c","oneOf":[0.23,0.38,0.54,0.69,0.85,1,1.16,1.35,1.6,1.8,2]}}],"mark":{"type":"area","orient":"horizontal","interpolate":"monotone","clip":true,"fillOpacity":0,"stroke":"#ffffff","strokeWidth":1},
"encoding":{"y":{"field":"s","type":"quantitative","axis":{"orient":"right","values":[0,0.2,0.4,0.6,0.8,1],"labels":false,"tickSize":10,"title":null},"scale":{"domain":[-0.0103,1.014],"nice":false,"zero":false}},
"x":{"field":"a","type":"quantitative","axis":{"orient":"top","values":[-20,-15,-10,-5,0],"labels":false,"tickSize":-11,"title":null},"scale":{"domain":[-20,0],"nice":false,"zero":false}},"x2":{"field":"b"},"detail":{"field":"g"}}},
{"data":{"name":"q2"},"mark":{"type":"line","clip":true,"color":"#ffffff","strokeWidth":5.5,"strokeDash":[17,7],"interpolate":"monotone","orient":"horizontal"},
"encoding":{"y":{"field":"s","type":"quantitative","axis":{"orient":"left","values":[0.05,0.1,0.15,0.25,0.3,0.35,0.45,0.5,0.55,0.65,0.7,0.75,0.85,0.9,0.95],"labels":false,"tickSize":5,"title":null},"scale":{"domain":[-0.0103,1.014],"nice":false,"zero":false}},
"x":{"field":"m","type":"quantitative","axis":{"orient":"bottom","values":[-19,-18,-17,-16,-14,-13,-12,-11,-9,-8,-7,-6,-4,-3,-2,-1],"labels":false,"tickSize":-6,"title":null},"scale":{"domain":[-20,0],"nice":false,"zero":false}},"order":{"field":"s","sort":"descending"}}},
{"data":{"name":"l2"},"mark":{"type":"text","color":"#ffffff","fontSize":13,"fontWeight":"bold","font":"Liberation Sans","clip":true},
"encoding":{"y":{"field":"s","type":"quantitative","axis":{"orient":"right","values":[0.05,0.1,0.15,0.25,0.3,0.35,0.45,0.5,0.55,0.65,0.7,0.75,0.85,0.9,0.95],"labels":false,"tickSize":5,"title":null},"scale":{"domain":[-0.0103,1.014],"nice":false,"zero":false}},
"x":{"field":"m","type":"quantitative","axis":{"orient":"top","values":[-19,-18,-17,-16,-14,-13,-12,-11,-9,-8,-7,-6,-4,-3,-2,-1],"labels":false,"tickSize":-6,"title":null},"scale":{"domain":[-20,0],"nice":false,"zero":false}},"text":{"field":"t"},"angle":{"field":"r","type":"quantitative","scale":null}}},
{"data":{"name":"w"},"mark":{"type":"line","color":"#ffffff","strokeWidth":5},
"encoding":{"x":{"field":"m","type":"quantitative","axis":null,"scale":{"domain":[-20,0],"nice":false,"zero":false}},"y":{"field":"s","type":"quantitative","axis":null,"scale":{"domain":[-0.0103,1.014],"nice":false,"zero":false}},"detail":{"field":"k"}}},
{"data":{"name":"h"},"mark":{"type":"point","shape":"triangle-up","filled":true,"color":"#ffffff","opacity":1,"size":800},
"encoding":{"x":{"field":"m","type":"quantitative","axis":null,"scale":{"domain":[-20,0],"nice":false,"zero":false}},"y":{"field":"s","type":"quantitative","axis":null,"scale":{"domain":[-0.0103,1.014],"nice":false,"zero":false}},"angle":{"field":"r","type":"quantitative","scale":null}}},
{"data":{"values":[{"m":-18.56,"s":0.58,"t":"Kink Mode"},{"m":-18.56,"s":0.5166,"t":"Excitation"}]},"mark":{"type":"text","color":"#ffffff","fontSize":40,"fontWeight":"bold","font":"Liberation Sans","align":"left","baseline":"alphabetic"},
"encoding":{"x":{"field":"m","type":"quantitative","axis":null,"scale":{"domain":[-20,0],"nice":false,"zero":false}},"y":{"field":"s","type":"quantitative","axis":null,"scale":{"domain":[-0.0103,1.014],"nice":false,"zero":false}},"text":{"field":"t"}}},
{"data":{"values":[{"m":-19.64,"s":0.0364,"t":"Total δB"}]},"mark":{"type":"text","color":"#ffffff","fontSize":51,"fontWeight":"bold","font":"Liberation Sans","align":"left","baseline":"alphabetic"},
"encoding":{"x":{"field":"m","type":"quantitative","axis":null,"scale":{"domain":[-20,0],"nice":false,"zero":false}},"y":{"field":"s","type":"quantitative","axis":null,"scale":{"domain":[-0.0103,1.014],"nice":false,"zero":false}},"text":{"field":"t"}}},
{"data":{"values":[{"m":-13,"s":0.0236,"t":"n"}]},"mark":{"type":"text","color":"#ffffff","fontSize":46,"fontWeight":"bold","font":"Liberation Sans","align":"left","baseline":"alphabetic"},
"encoding":{"x":{"field":"m","type":"quantitative","axis":null,"scale":{"domain":[-20,0],"nice":false,"zero":false}},"y":{"field":"s","type":"quantitative","axis":null,"scale":{"domain":[-0.0103,1.014],"nice":false,"zero":false}},"text":{"field":"t"}}}
],"resolve":{"axis":{"x":"independent","y":"independent"}}}
]}
